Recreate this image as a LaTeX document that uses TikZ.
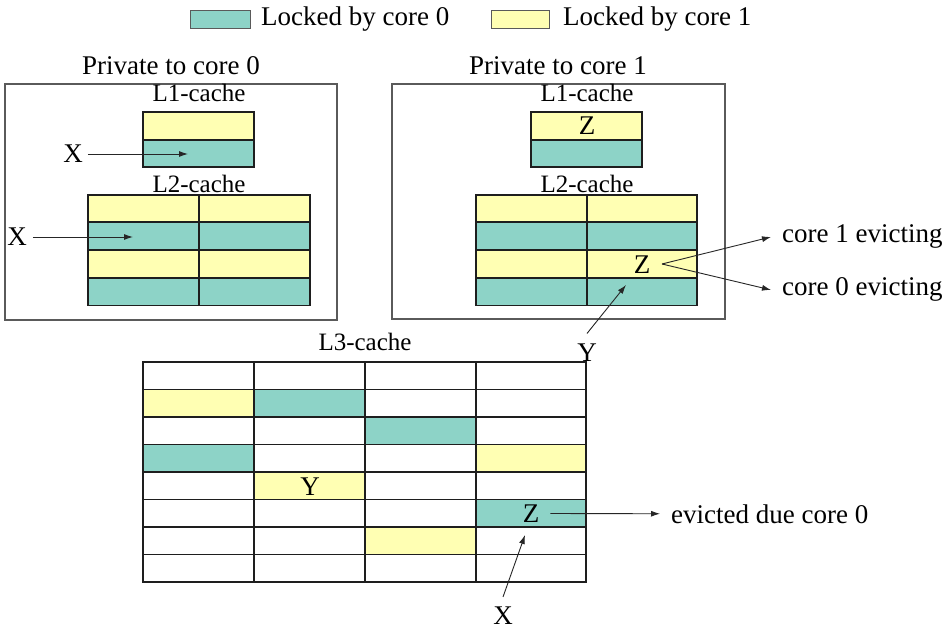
\documentclass[tikz,border=0pt]{standalone}
\usepackage{fontspec}
\setmainfont{Liberation Serif}
\usetikzlibrary{arrows.meta}
\definecolor{lockzero}{HTML}{8DD3C7}
\definecolor{lockone}{HTML}{FFFFB3}
\definecolor{cellline}{HTML}{1E1E1E}
\definecolor{frameline}{HTML}{5A5A5A}
\begin{document}
\begin{tikzpicture}[x=1pt,y=-1pt,
  big/.style={font=\fontsize{27}{30}\selectfont, inner sep=0pt},
  small/.style={font=\fontsize{25}{28}\selectfont, inner sep=0pt},
  cell/.style={draw=cellline, line width=1.4pt},
  c0/.style={cell, fill=lockzero},
  c1/.style={cell, fill=lockone},
  cw/.style={cell, fill=white},
  frame/.style={draw=frameline, line width=1.2pt},
  legbox/.style={draw=frameline, line width=1pt},
  arr/.style={draw=black!85, line width=0.9pt, -{Latex[length=9pt,width=6pt]}},
]
\path[use as bounding box, fill=white] (0,0) rectangle (946,631);

% legend
\draw[legbox, fill=lockzero] (190,11) rectangle (250,29);
\node[big, anchor=base west] (leg0) at (261,26) {Locked by core 0};
\draw[legbox, fill=lockone] (491,11) rectangle (549,29);
\node[big, anchor=base west] (leg1) at (563,26) {Locked by core 1};

% private caches of core 0
\draw[frame] (5,84) rectangle (337,320);
\node[big, anchor=base] (priv0) at (171,75) {Private to core 0};
\node[small, anchor=base] (l1a) at (199,102) {L1-cache};
\draw[c1] (143,112) rectangle (254,140);
\draw[c0] (143,140) rectangle (254,167);
\node[small, anchor=base] (l2a) at (199,193) {L2-cache};
\foreach \y/\s in {195/c1,222/c0,250/c1,278/c0} {
  \draw[\s] (88,\y) rectangle (199,\y+27.75);
  \draw[\s] (199,\y) rectangle (310,\y+27.75);
}

% private caches of core 1
\draw[frame] (392,84) rectangle (725,319);
\node[big, anchor=base] (priv1) at (558,75) {Private to core 1};
\node[small, anchor=base] (l1b) at (587,102) {L1-cache};
\draw[c1] (531,112) rectangle (642,140);
\draw[c0] (531,140) rectangle (642,167);
\node[small, anchor=base] (l2b) at (587,193) {L2-cache};
\foreach \y/\s in {195/c1,222/c0,250/c1,278/c0} {
  \draw[\s] (476,\y) rectangle (587,\y+27.75);
  \draw[\s] (587,\y) rectangle (697,\y+27.75);
}

% shared L3 cache
\node[small, anchor=base] (l3) at (365,351) {L3-cache};
\foreach \r/\a/\b/\c/\d in {0/cw/cw/cw/cw, 1/c1/c0/cw/cw, 2/cw/cw/c0/cw, 3/c0/cw/cw/c1,
                           4/cw/c1/cw/cw, 5/cw/cw/cw/c0, 6/cw/cw/c1/cw, 7/cw/cw/cw/cw} {
  \pgfmathsetmacro{\yt}{362+27.5*\r}
  \pgfmathsetmacro{\yb}{362+27.5*(\r+1)}
  \draw[\a] (143,\yt) rectangle (254,\yb);
  \draw[\b] (254,\yt) rectangle (365,\yb);
  \draw[\c] (365,\yt) rectangle (476,\yb);
  \draw[\d] (476,\yt) rectangle (586,\yb);
}

% line X
\node[big] (xa) at (73,154) {X};
\coordinate (xatip) at (188,154);
\draw[arr] ([xshift=5pt]xa.east) -- (xatip);
\node[big] (xb) at (17,237) {X};
\coordinate (xbtip) at (133,237);
\draw[arr] ([xshift=6pt]xb.east) -- (xbtip);
\node[big] (xc) at (503,616) {X};
\coordinate (xctip) at (525,535);
\draw[arr] ([yshift=10pt]xc.north) -- (xctip);

% line Y
\node[big] (yb) at (587,352.5) {Y};
\coordinate (ybtip) at (626,285);
\draw[arr] ([yshift=10pt]yb.north) -- (ybtip);
\node[big] (yc) at (310,486.5) {Y};

% line Z
\node[big] (za) at (587,126) {Z};
\node[big] (zb) at (642,264.5) {Z};
\coordinate (zfork) at (662,264);
\node[big, anchor=base west] (ev1) at (782,243) {core 1 evicting};
\node[big, anchor=base west] (ev0) at (782,296) {core 0 evicting};
\draw[arr] (zfork) -- ([xshift=-11pt]ev1.west);
\draw[arr] (zfork) -- ([xshift=-11pt]ev0.west);
\node[big] (zc) at (531,513.5) {Z};
\node[big, anchor=base west] (evd) at (671,523) {evicted due core 0};
\draw[arr] ([xshift=11pt]zc.east) -- ([xshift=-11pt]evd.west);
\end{tikzpicture}
\end{document}
